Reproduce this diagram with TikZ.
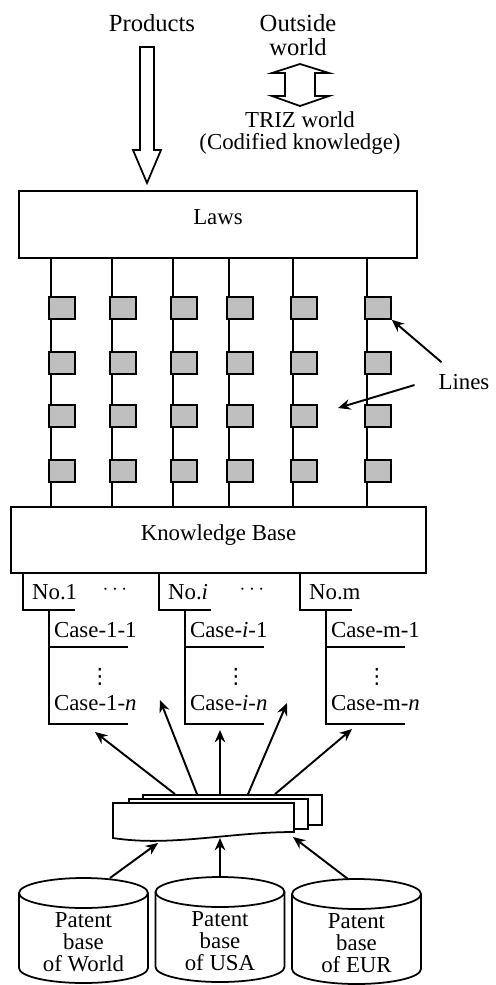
\documentclass[tikz,border=0pt]{standalone}
\usepackage{fontspec}
\setmainfont{Liberation Serif}
\newfontfamily\symfont{DejaVu Sans}
\usepackage{tikz}
\usetikzlibrary{arrows.meta}

\begin{document}
\begin{tikzpicture}[
    x=0.02cm, y=-0.02cm,
    font=\fontsize{13}{12.5}\selectfont,
    box/.style={rectangle, draw, line width=1.1pt, text depth=0.3cm},
    sq/.style={rectangle, draw, fill=black!25, line width=0.9pt,
               minimum width=0.52cm, minimum height=0.44cm, inner sep=0pt},
    txt/.style={inner sep=1pt, anchor=west},
    big/.style={font=\fontsize{14}{14}\selectfont, align=center, inner sep=1pt},
    doc/.style={rectangle, draw, fill=white, line width=1pt,
                minimum width=3.58cm, minimum height=0.6cm},
    hollow/.style={draw, fill=white, line width=1pt, line join=miter},
    dbline/.style={line width=1pt},
    ln/.style={line width=0.8pt},
    tr/.style={line width=1.1pt},
    arr/.style={-{Stealth[length=7pt,width=6pt]}, line width=1.1pt}
]
    \useasboundingbox (0,0) rectangle (496,985);

    % top: products and the two worlds
    \node[big] (prod) at (152,23) {Products};
    \node[big] (outw) at (298,35) {Outside\\world};
    \node[align=center, inner sep=1pt] (triz) at (300,133) {TRIZ world\\(Codified knowledge)};
    \draw[hollow] (140,47) -- (154,47) -- (154,150) -- (161,150) -- (147,183)
        -- (133,150) -- (140,150) -- cycle;
    \draw[hollow] (300,64) -- (329,73) -- (315,73) -- (315,96) -- (329,96) -- (300,106)
        -- (272,96) -- (285,96) -- (285,73) -- (272,73) -- cycle;

    \node[box, minimum width=7.96cm, minimum height=1.34cm] (laws) at (218,224.5) {Laws};
    \node[box, minimum width=8.3cm, minimum height=1.32cm] (kb) at (218.5,540) {Knowledge Base};

    % lines with their blocks
    \foreach \x [count=\c] in {51,112,173,229,293,367} {
        \draw[ln] (laws.south -| \x,0) -- (kb.north -| \x,0);
        \foreach \y [count=\r] in {308,363,416,471}
            \node[sq] (sq-\c-\r) at (\x+11,\y) {};
    }
    \node[inner sep=1pt] (lines) at (464,382) {Lines};
    \coordinate (lp) at (338,408);
    \draw[arr] ([shift={(5,-10)}]lines.north west) -- (sq-6-1.south east);
    \draw[arr] ([shift={(-22,3)}]lines.west) -- (lp);

    % cases under the knowledge base
    \foreach \x/\k [count=\j] in {23/1, 159/\textit{i}, 300/m} {
        \draw[tr] (kb.south -| \x,0) |- (\x+52,610);
        \draw[tr] (\x+26,610) |- (\x+105,724);
        \draw[tr] (\x+26,647) -- (\x+105,647);
        \node[txt] (no-\j) at (\x+7,592) {No.\k};
        \node[txt] (case-\j-1) at (\x+29,630) {Case-\k-1};
        \node[inner sep=0pt, font=\symfont\fontsize{12}{12}\selectfont] (vd-\j) at (\x+77,677) {⋮};
        \node[txt] (case-\j-n) at (\x+29,703) {Case-\k-\textit{n}};
    }
    \node (dots-1) at (115,590) {$\cdots$};
    \node (dots-2) at (252,590) {$\cdots$};

    % stacked documents
    \node[doc] (doc-3) at (232.5,810) {};
    \node[doc] (doc-2) at (218.5,814) {};
    \draw[hollow] (113,803) -- (294,803) -- (294,832) .. controls (230,832) and (170,847) .. (113,838) -- cycle;
    \coordinate (doc-1w) at (158,843);
    \coordinate (doc-1c) at (220,838);
    \coordinate (doc-1e) at (293,837);

    \foreach \s/\tx/\ty [count=\i] in {175/95/732, 197/160/700, 220/220/730, 248/287/703, 275/352/729} {
        \coordinate (t-\i) at (\tx,\ty);
        \draw[arr] (doc-3.north -| \s,0) -- (t-\i);
    }

    % patent bases
    \foreach \cx/\cy/\nm/\tx in {83.5/893/pw/World, 220/892/pu/USA, 356.5/894/pe/EUR} {
        \draw[dbline] (\cx-64.5,\cy) -- (\cx-64.5,\cy+75)
            arc[start angle=180, end angle=360, x radius=1.29cm, y radius=0.3cm] -- (\cx+64.5,\cy);
        \draw[dbline] (\cx,\cy) ellipse [x radius=1.29cm, y radius=0.3cm];
        \coordinate (\nm-top) at (\cx,\cy-15);
        \node[align=center, inner sep=1pt] (\nm) at (\cx,\cy+49) {Patent\\base\\of \tx};
    }
    \draw[arr] (pw-top -| 110,0) -- (doc-1w);
    \draw[arr] (pu-top) -- (doc-1c);
    \draw[arr] (pe-top -| 348,0) -- (doc-1e);
\end{tikzpicture}
\end{document}
